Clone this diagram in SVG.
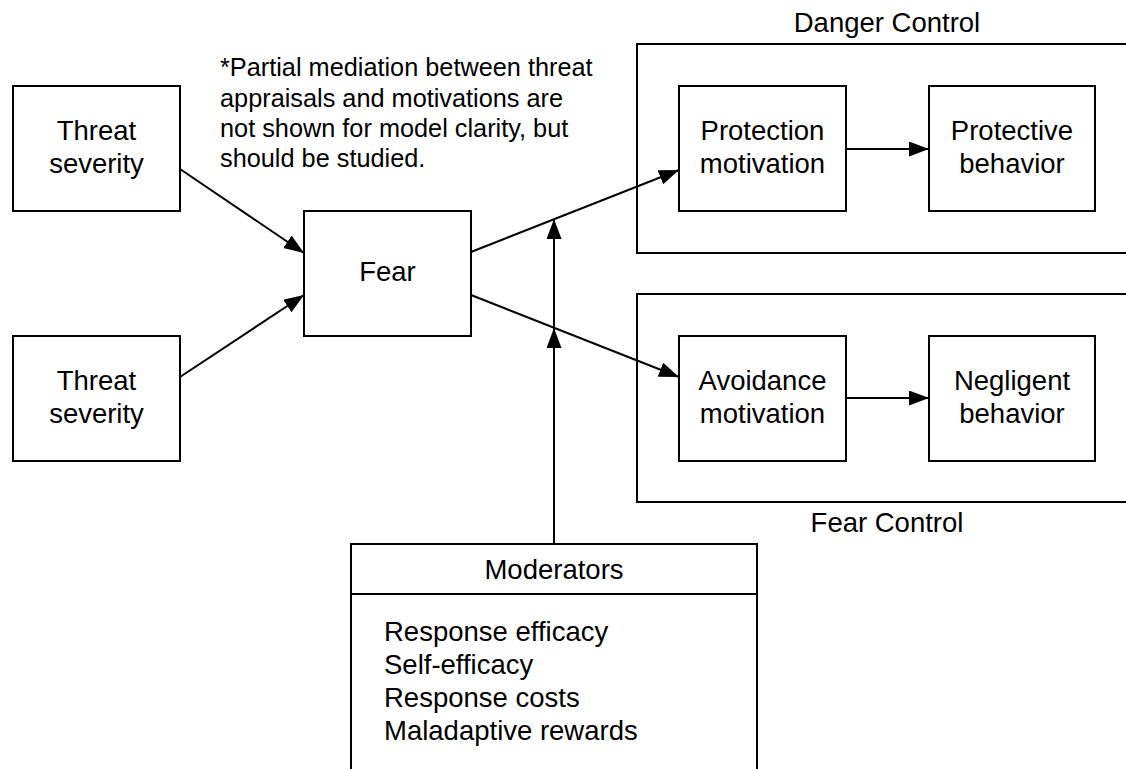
<svg xmlns="http://www.w3.org/2000/svg" width="1126" height="769" viewBox="0 0 1126 769">
<style>
.box{fill:#fff;stroke:#000;stroke-width:2}
.frame{fill:none;stroke:#000;stroke-width:2}
.t{font-family:"Liberation Sans",Arial,sans-serif;font-size:27.5px;fill:#000}
.c{text-anchor:middle}
.note{font-family:"Liberation Sans",Arial,sans-serif;font-size:25.3px;fill:#000}
.edge{fill:none;stroke:#000;stroke-width:2;marker-end:url(#ah)}
</style>
<defs>
<marker id="ah" markerUnits="userSpaceOnUse" markerWidth="22" markerHeight="16" refX="20" refY="7.5" orient="auto">
<path d="M0,0 L20,7.5 L0,15 Z" fill="#000"/>
</marker>
</defs>
<rect width="1126" height="769" fill="#fff"/>

<g id="danger-control">
<rect class="frame" x="637" y="44" width="500" height="209"/>
<text class="t c" x="887" y="32">Danger Control</text>
</g>
<g id="fear-control">
<rect class="frame" x="637" y="294" width="500" height="208"/>
<text class="t c" x="887" y="532">Fear Control</text>
</g>

<g id="note">
<text class="note" x="220" y="76">*Partial mediation between threat</text>
<text class="note" x="220" y="106.5">appraisals and motivations are</text>
<text class="note" x="220" y="137">not shown for model clarity, but</text>
<text class="note" x="220" y="167">should be studied.</text>
</g>

<g id="threat-severity-1">
<rect class="box" x="13" y="86" width="167" height="125"/>
<text class="t c" x="96.5" y="140">Threat</text>
<text class="t c" x="96.5" y="173">severity</text>
</g>
<g id="threat-severity-2">
<rect class="box" x="13" y="336" width="167" height="125"/>
<text class="t c" x="96.5" y="390">Threat</text>
<text class="t c" x="96.5" y="423">severity</text>
</g>
<g id="fear">
<rect class="box" x="304" y="211" width="167" height="125"/>
<text class="t c" x="387.5" y="281">Fear</text>
</g>
<g id="protection-motivation">
<rect class="box" x="679" y="86" width="167" height="125"/>
<text class="t c" x="762.5" y="140">Protection</text>
<text class="t c" x="762.5" y="173">motivation</text>
</g>
<g id="protective-behavior">
<rect class="box" x="929" y="86" width="166" height="125"/>
<text class="t c" x="1012" y="140">Protective</text>
<text class="t c" x="1012" y="173">behavior</text>
</g>
<g id="avoidance-motivation">
<rect class="box" x="679" y="336" width="167" height="125"/>
<text class="t c" x="762.5" y="390">Avoidance</text>
<text class="t c" x="762.5" y="423">motivation</text>
</g>
<g id="negligent-behavior">
<rect class="box" x="929" y="336" width="166" height="125"/>
<text class="t c" x="1012" y="390">Negligent</text>
<text class="t c" x="1012" y="423">behavior</text>
</g>
<g id="moderators">
<rect class="box" x="351" y="544" width="406" height="240"/>
<line x1="351" y1="594" x2="757" y2="594" stroke="#000" stroke-width="2"/>
<text class="t c" x="554" y="579">Moderators</text>
<text class="t" x="384" y="641">Response efficacy</text>
<text class="t" x="384" y="674">Self-efficacy</text>
<text class="t" x="384" y="707">Response costs</text>
<text class="t" x="384" y="740">Maladaptive rewards</text>
</g>

<g id="connectors">
<path class="edge" d="M180,169 L304,253"/>
<path class="edge" d="M180,377 L304,295"/>
<path class="edge" d="M471,252 L679,170"/>
<path class="edge" d="M471,295 L679,377"/>
<path class="edge" d="M846,149 L929,149"/>
<path class="edge" d="M846,398 L929,398"/>
<path class="edge" d="M554,544 L554,328"/>
<path class="edge" d="M554,328 L554,219"/>
</g>
</svg>
